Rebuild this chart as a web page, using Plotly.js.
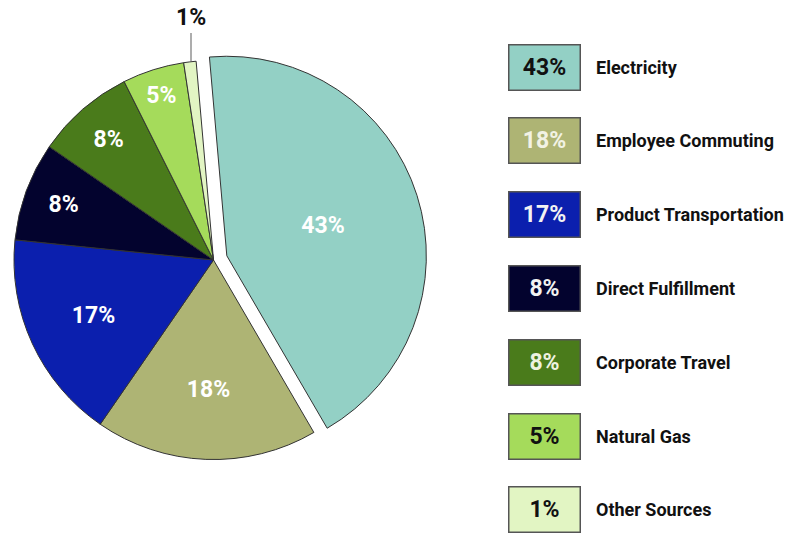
<!DOCTYPE html>
<html>
<head>
<meta charset="utf-8">
<script src="https://cdn.plot.ly/plotly-3.0.1.min.js"></script>
<style>html,body{margin:0;padding:0;background:#fff;}#chart{width:794px;height:536px;}</style>
</head>
<body>
<div id="chart"></div>
<script>
const categories = ["Electricity", "Employee Commuting", "Product Transportation", "Direct Fulfillment", "Corporate Travel", "Natural Gas", "Other Sources"];
const shares = [43, 18, 17, 8, 8, 5, 1];
const colors = ["#93d0c5", "#aeb474", "#0b1fae", "#03032e", "#4a7b1b", "#a5db5b", "#e2f5c3"];
const boxTextColors = ["#111111", "#f2f2e4", "#f2f2f2", "#f2f2f2", "#eef2e0", "#111111", "#111111"];
const pulls = [0.07, 0, 0, 0, 0, 0, 0];
const textPositions = ["inside", "inside", "inside", "inside", "inside", "inside", "none"];

const FONT = "Roboto, 'Liberation Sans', sans-serif";

const trace = {
  type: "pie",
  labels: categories,
  values: shares,
  sort: false,
  direction: "clockwise",
  rotation: -5,
  pull: pulls,
  marker: {colors: colors, line: {color: "#333333", width: 1}},
  texttemplate: "%{value}%",
  textposition: textPositions,
  insidetextorientation: "horizontal",
  insidetextfont: {family: FONT, size: 23, color: "#ffffff", weight: 700},
  hoverinfo: "none",
  showlegend: false,
  domain: {x: [0, 427/794], y: [1 - 474/536, 1 - 46/536]}
};

const annotations = [];
const rowTop = 67, rowStep = 73.8;
categories.forEach((c, i) => {
  const yp = 1 - (rowTop + i * rowStep) / 536;
  annotations.push({
    xref: "paper", yref: "paper", x: 544/794, y: yp,
    xanchor: "center", yanchor: "middle",
    text: shares[i] + "%", showarrow: false,
    width: 70, height: 44, bgcolor: colors[i],
    bordercolor: "#555555", borderwidth: 1.5, borderpad: 0,
    font: {family: FONT, size: 23, color: boxTextColors[i], weight: 700}
  });
  annotations.push({
    xref: "paper", yref: "paper", x: 594/794, y: yp,
    xanchor: "left", yanchor: "middle",
    text: c, showarrow: false,
    font: {family: FONT, size: 18, color: "#111111", weight: 700}
  });
});

// outside label for the smallest slice, with a leader line
const last = shares.length - 1;
annotations.push({
  xref: "paper", yref: "paper", x: 191/794, y: 1 - 61/536,
  ax: 0, ay: -28, axref: "pixel", ayref: "pixel",
  text: shares[last] + "%", showarrow: true, arrowhead: 0,
  arrowcolor: "#777777", arrowwidth: 1.2, standoff: 0,
  yanchor: "bottom",
  font: {family: FONT, size: 23, color: "#111111", weight: 700}
});

const layout = {
  width: 794, height: 536,
  margin: {l: 0, r: 0, t: 0, b: 0},
  paper_bgcolor: "#ffffff",
  showlegend: false,
  annotations: annotations
};

Plotly.newPlot("chart", [trace], layout, {displayModeBar: false, staticPlot: true});
</script>
</body>
</html>
